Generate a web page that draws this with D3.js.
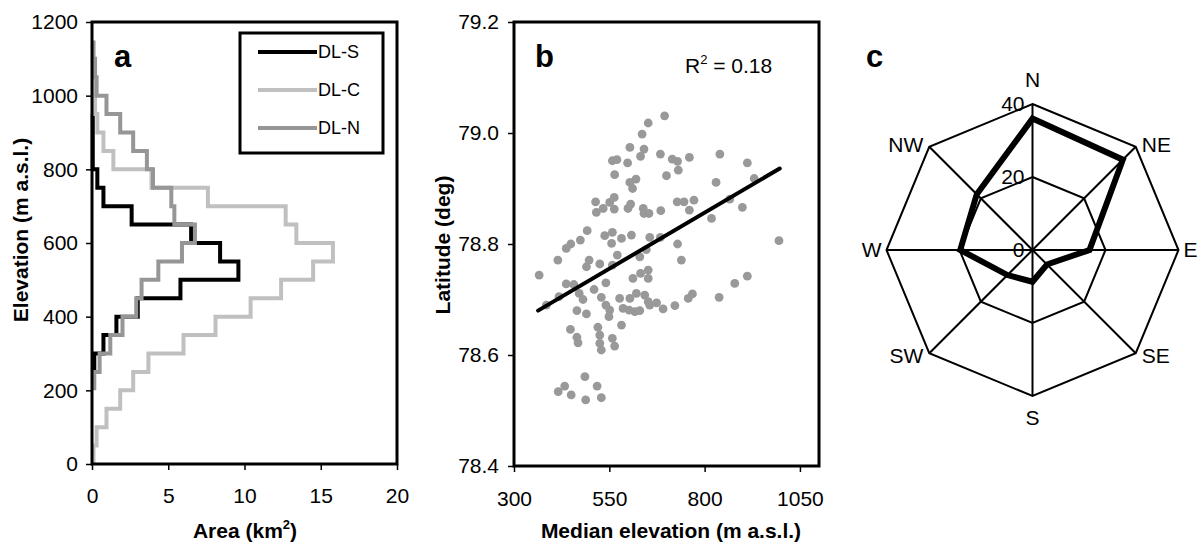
<!DOCTYPE html>
<html><head><meta charset="utf-8">
<script src="https://cdn.jsdelivr.net/npm/d3@7"></script>
<style>
body{margin:0;background:#fff}
text{font-family:Arial,"Liberation Sans",sans-serif;fill:#000}
</style>
</head><body>
<svg id="chart" width="1198" height="544"></svg>
<script>
// ---------- Panel a: hypsometry (area per 50 m elevation bin) ----------
const binLower = [0,50,100,150,200,250,300,350,400,450,500,550,600,650,700,750,800,850,900,950,1000,1050,1100,1150];
const binWidth = 50;
const dlS = [null,null,null,null,null,0.15,0.75,1.6,3.0,5.8,9.6,8.4,6.5,2.6,0.75,0.35,0.05,0.05,0.05,null,null,null,null,null];
const dlC = [0.1,0.3,0.95,1.85,2.7,3.7,6.0,8.1,10.4,12.4,14.5,15.8,13.4,12.7,7.6,3.9,1.4,0.75,0.35,0.2,0.1,0.1,null,null];
const dlN = [null,null,null,null,0.15,0.5,1.2,2.0,2.9,3.25,4.35,5.9,6.75,5.4,5.2,4.0,3.6,2.7,1.85,0.95,0.3,0.2,0.1,null];
const seriesNames = ["DL-S","DL-C","DL-N"];
const seriesColors = ["#000000","#c0c0c0","#969696"];
const areaTicks = [0,5,10,15,20];
const elevTicks = [0,200,400,600,800,1000,1200];

// ---------- Panel b: scatter ----------
const medElev = [652,636,604,641,684,632,558,570,598,564,620,604,611,514,516,534,551,563,563,599,606,639,641,654,685,492,474,449,538,558,556,582,608,656,
695,715,729,760,840,912,731,700,830,930,728,746,772,760,866,899,818,729,995,684,
415,366,437,457,497,490,525,571,558,541,471,481,510,529,541,551,465,490,549,448,465,468,520,525,525,529,558,564,582,577,586,604,621,617,630,602,643,652,656,612,632,652,652,630,647,486,433,416,450,488,518,529,385,418,437,
674,691,722,757,768,838,879,912,739];
const latitude = [79.018,78.998,78.974,78.971,78.962,78.958,78.950,78.952,78.946,78.925,78.917,78.911,78.900,78.876,78.857,78.864,78.875,78.884,78.863,78.864,78.872,78.864,78.855,78.855,78.860,78.824,78.807,78.800,78.815,78.821,78.801,78.810,78.816,78.812,
79.031,78.953,78.949,78.956,78.962,78.946,78.933,78.923,78.911,78.918,78.876,78.876,78.879,78.861,78.881,78.866,78.846,78.800,78.806,78.812,
78.771,78.744,78.728,78.727,78.771,78.759,78.764,78.780,78.762,78.730,78.711,78.700,78.718,78.704,78.690,78.681,78.680,78.674,78.669,78.646,78.632,78.622,78.650,78.636,78.621,78.609,78.630,78.616,78.654,78.702,78.684,78.702,78.711,78.678,78.680,78.681,78.708,78.696,78.690,78.738,78.747,78.753,78.738,78.777,78.790,78.561,78.544,78.534,78.528,78.519,78.544,78.523,78.690,78.705,78.792,
78.694,78.683,78.689,78.702,78.710,78.704,78.729,78.742,78.771];
const trendElev = [363, 997];
const trendLat = [78.680, 78.936];
const rSquared = "0.18";
const medTicks = [300,550,800,1050];
const latTicks = [78.4,78.6,78.8,79.0,79.2];

// ---------- Panel c: aspect radar ----------
const directions = ["N","NE","E","SE","S","SW","W","NW"];
const aspectPct = [36,35,15.6,5.6,8.7,9.7,19.8,21.6];
const ringValues = [0,20,40];

const FONT = "Arial, 'Liberation Sans', sans-serif";
const svg = d3.select("#chart");
svg.append("rect").attr("width",1198).attr("height",544).attr("fill","#fff");

function styleAxis(ax){
  ax.select(".domain").remove();
  ax.selectAll("line").attr("stroke","#000").attr("stroke-width",1.5);
  ax.selectAll("text").attr("font-size",21).attr("font-family",FONT).attr("fill","#000");
}

// ===== Panel a =====
const A = {l:92, r:397, t:22, b:464};
const xA = d3.scaleLinear().domain([0,20]).range([A.l, A.r]);
const yA = d3.scaleLinear().domain([0,1200]).range([A.b, A.t]);
const gA = svg.append("g");

function stepPoints(vals){
  const pts = [];
  vals.forEach((v,i)=>{ if(v!==null){ pts.push([v, binLower[i]]); pts.push([v, binLower[i]+binWidth]); } });
  return pts;
}
const stepLine = d3.line().x(d=>xA(d[0])).y(d=>yA(d[1]));
[dlS, dlC, dlN].forEach((vals,k)=>{
  gA.append("path").attr("d", stepLine(stepPoints(vals)))
    .attr("fill","none").attr("stroke",seriesColors[k]).attr("stroke-width",4)
    .attr("stroke-linejoin","miter").attr("stroke-linecap","butt");
});
gA.append("rect").attr("x",A.l).attr("y",A.t).attr("width",A.r-A.l).attr("height",A.b-A.t)
  .attr("fill","none").attr("stroke","#000").attr("stroke-width",3);

const axAy = gA.append("g").attr("transform",`translate(${A.l},0)`)
  .call(d3.axisLeft(yA).tickValues(elevTicks).tickFormat(d3.format("d")).tickSize(6).tickPadding(8));
const axAx = gA.append("g").attr("transform",`translate(0,${A.b})`)
  .call(d3.axisBottom(xA).tickValues(areaTicks).tickFormat(d3.format("d")).tickSize(6).tickPadding(18));
styleAxis(axAy); styleAxis(axAx);

gA.append("text").attr("transform","translate(28,230) rotate(-90)").attr("text-anchor","middle")
  .attr("font-size",21).attr("font-weight","bold").text("Elevation (m a.s.l.)");
const tA = gA.append("text").attr("x",245).attr("y",538).attr("text-anchor","middle")
  .attr("font-size",21).attr("font-weight","bold");
tA.append("tspan").text("Area (km");
tA.append("tspan").attr("font-size",13).attr("dy",-9).text("2");
tA.append("tspan").attr("dy",9).text(")");
gA.append("text").attr("x",114).attr("y",67).attr("font-size",31).attr("font-weight","bold").text("a");

// legend
const leg = gA.append("g");
leg.append("rect").attr("x",240).attr("y",33).attr("width",143).attr("height",120)
  .attr("fill","#fff").attr("stroke","#000").attr("stroke-width",3);
seriesNames.forEach((n,i)=>{
  const y = 52 + i*38;
  leg.append("line").attr("x1",258).attr("x2",317).attr("y1",y).attr("y2",y)
    .attr("stroke",seriesColors[i]).attr("stroke-width",4);
  leg.append("text").attr("x",318).attr("y",y).attr("dy","0.36em").attr("font-size",18).text(n);
});

// ===== Panel b =====
const B = {l:514, r:819, t:22, b:466};
const xB = d3.scaleLinear().domain([300,1100]).range([B.l, B.r]);
const yB = d3.scaleLinear().domain([78.4,79.2]).range([B.b, B.t]);
const gB = svg.append("g");
gB.selectAll("circle").data(medElev.map((e,i)=>[e, latitude[i]])).join("circle")
  .attr("cx",d=>xB(d[0])).attr("cy",d=>yB(d[1])).attr("r",4.4).attr("fill","#999999");
gB.append("line").attr("x1",xB(trendElev[0])).attr("y1",yB(trendLat[0]))
  .attr("x2",xB(trendElev[1])).attr("y2",yB(trendLat[1]))
  .attr("stroke","#000").attr("stroke-width",4).attr("stroke-linecap","round");
gB.append("rect").attr("x",B.l).attr("y",B.t).attr("width",B.r-B.l).attr("height",B.b-B.t)
  .attr("fill","none").attr("stroke","#000").attr("stroke-width",3);
const axBy = gB.append("g").attr("transform",`translate(${B.l},0)`)
  .call(d3.axisLeft(yB).tickValues(latTicks).tickFormat(d3.format(".1f")).tickSize(6).tickPadding(9));
const axBx = gB.append("g").attr("transform",`translate(0,${B.b})`)
  .call(d3.axisBottom(xB).tickValues(medTicks).tickFormat(d3.format("d")).tickSize(6).tickPadding(19));
styleAxis(axBy); styleAxis(axBx);
gB.append("text").attr("transform","translate(450,245) rotate(-90)").attr("text-anchor","middle")
  .attr("font-size",21).attr("font-weight","bold").text("Latitude (deg)");
gB.append("text").attr("x",671).attr("y",538).attr("text-anchor","middle")
  .attr("font-size",21).attr("font-weight","bold").text("Median elevation (m a.s.l.)");
gB.append("text").attr("x",535).attr("y",67).attr("font-size",31).attr("font-weight","bold").text("b");
const r2 = gB.append("text").attr("x",685).attr("y",73).attr("font-size",21);
r2.append("tspan").text("R");
r2.append("tspan").attr("font-size",13).attr("dy",-9).text("2");
r2.append("tspan").attr("dy",9).text(" = " + rSquared);

// ===== Panel c =====
const cx = 1032.5, cy = 250;
const rC = d3.scaleLinear().domain([0,40]).range([0,146]);
const ang = d3.scalePoint().domain(directions).range([0, 2*Math.PI*7/8]);
const gC = svg.append("g").attr("transform",`translate(${cx},${cy})`);
const radial = d3.lineRadial().curve(d3.curveLinearClosed);
ringValues.filter(v=>v>0).forEach(v=>{
  gC.append("path").attr("d", radial(directions.map(d=>[ang(d), rC(v)])))
    .attr("fill","none").attr("stroke","#000").attr("stroke-width",2);
});
directions.forEach(d=>{
  const a = ang(d), R = rC(40);
  gC.append("line").attr("x1",0).attr("y1",0).attr("x2",Math.sin(a)*R).attr("y2",-Math.cos(a)*R)
    .attr("stroke","#000").attr("stroke-width",2);
});
gC.append("path").attr("d", radial(directions.map((d,i)=>[ang(d), rC(aspectPct[i])])))
  .attr("fill","none").attr("stroke","#000").attr("stroke-width",6).attr("stroke-linejoin","miter");
ringValues.forEach(v=>{
  gC.append("text").attr("x",-8).attr("y",-rC(v)).attr("dy","0.35em").attr("text-anchor","end")
    .attr("font-size",21).text(v);
});
directions.forEach(d=>{
  const a = ang(d), R = rC(40);
  const x = Math.sin(a)*R, y = -Math.cos(a)*R;
  const t = gC.append("text").attr("font-size",21).attr("dy","0.35em").text(d);
  if (d==="N") t.attr("x",x).attr("y",y-24).attr("text-anchor","middle");
  else if (d==="S") t.attr("x",x).attr("y",y+22).attr("text-anchor","middle");
  else if (d==="E") t.attr("x",x+5).attr("y",y).attr("text-anchor","start");
  else if (d==="W") t.attr("x",x-5).attr("y",y).attr("text-anchor","end");
  else if (d==="NE"||d==="SE") t.attr("x",x+6).attr("y",y+(d==="NE"?-2:2)).attr("text-anchor","start");
  else t.attr("x",x-6).attr("y",y+(d==="NW"?-2:2)).attr("text-anchor","end");
});
svg.append("text").attr("x",866).attr("y",67).attr("font-size",31).attr("font-weight","bold").text("c");
</script>
</body></html>
